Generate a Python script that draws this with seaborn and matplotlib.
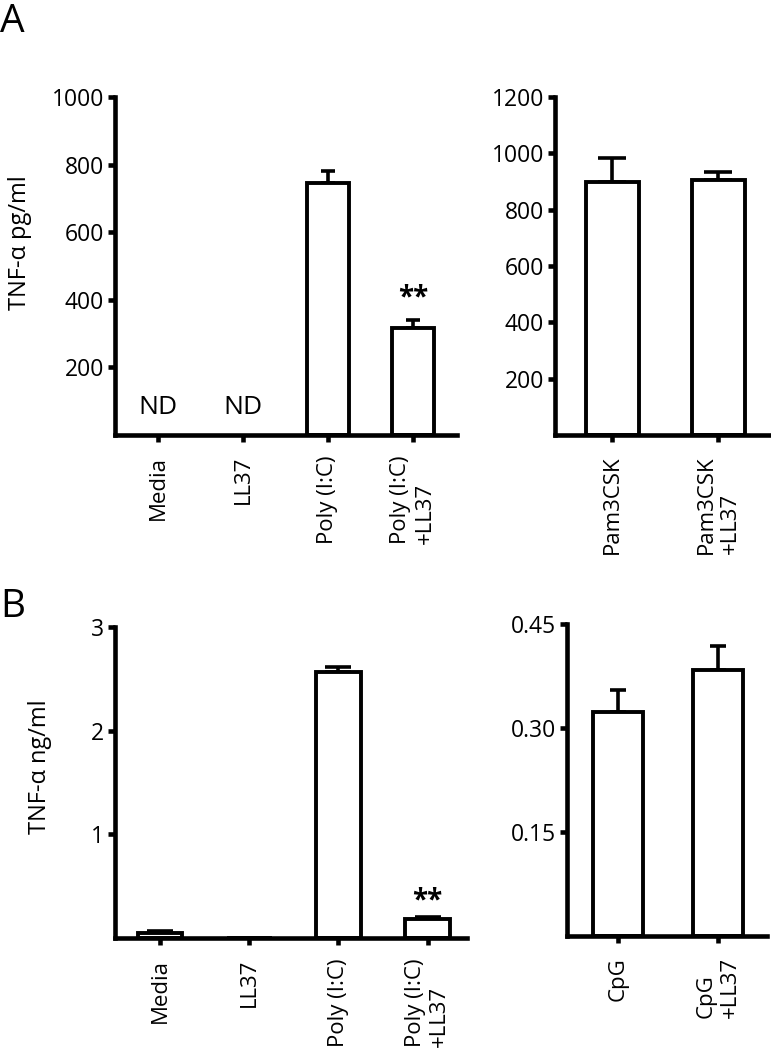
import numpy as np
import seaborn as sns
import matplotlib.pyplot as plt

# Data
catsA1 = ["Media", "LL37", "Poly (I:C)", "Poly (I:C)\n+LL37"]
tnfA1 = [np.nan, np.nan, 745, 317]
errA1 = [0, 0, 36, 23]

catsA2 = ["Pam3CSK", "Pam3CSK\n+LL37"]
tnfA2 = [897, 904]
errA2 = [85, 28]

catsB1 = ["Media", "LL37", "Poly (I:C)", "Poly (I:C)\n+LL37"]
tnfB1 = [0.05, 0.0, 2.565, 0.18]
errB1 = [0.02, 0.0, 0.045, 0.02]

catsB2 = ["CpG", "CpG\n+LL37"]
tnfB2 = [0.323, 0.384]
errB2 = [0.032, 0.034]

sns.set_style("ticks")
plt.rcParams['font.family'] = ['Open Sans', 'DejaVu Sans']
plt.rcParams.update({"text.color": "black", "axes.labelcolor": "black",
                     "xtick.color": "black", "ytick.color": "black",
                     "axes.edgecolor": "black"})

fig = plt.figure(figsize=(7.71, 10.5), dpi=100)
W, H = 771, 1050


def make_ax(left, right, top, bottom):
    return fig.add_axes([left / W, 1 - bottom / H, (right - left) / W, (bottom - top) / H])


def draw(ax, cats, vals, errs, capsize, ylim, yticks, xlim, fmt="{:g}"):
    sns.barplot(x=cats, y=vals, color="white", edgecolor="black", linewidth=2.8,
                width=0.5, errorbar=None, ax=ax, zorder=2)
    pos = np.arange(len(cats))
    v = np.nan_to_num(np.array(vals, dtype=float))
    e = np.array(errs, dtype=float)
    show = e > 0
    ax.errorbar(pos[show], v[show], yerr=[np.zeros(show.sum()), e[show]], fmt="none",
                ecolor="black", elinewidth=2.6, capsize=capsize, capthick=2.6, zorder=1)
    ax.set_ylim(*ylim)
    ax.set_xlim(*xlim)
    ax.set_yticks(yticks)
    ax.set_yticklabels([fmt.format(t) for t in yticks], fontsize=16.5)
    ax.set_xticks(pos)
    ax.set_xticklabels(cats, rotation=90, fontsize=16, va="top", ha="center")
    for t in ax.get_xticklabels():
        t.set_multialignment("left")
    for s in ["left", "bottom"]:
        ax.spines[s].set_linewidth(3.3)
        ax.spines[s].set_color("black")
    sns.despine(ax=ax)
    ax.tick_params(axis="both", direction="out", length=5, width=3.3, colors="black")
    ax.tick_params(axis="y", pad=3)
    ax.tick_params(axis="x", pad=10)
    ax.set_xlabel("")


# Panel A
axA1 = make_ax(115, 457, 97, 435)
draw(axA1, catsA1, tnfA1, errA1, 4.7, (0, 1000), [200, 400, 600, 800, 1000], (-0.506, 3.52))
axA1.set_ylabel("TNF-α pg/ml", fontsize=17)
axA1.yaxis.set_label_coords(-0.243, 0.568)
for i in range(2):
    axA1.text(i, 80, "ND", ha="center", va="center", fontsize=19)
axA1.text(3, 405, "**", ha="center", va="center", fontsize=20, fontweight="bold")

axA2 = make_ax(555, 769, 97, 435)
draw(axA2, catsA2, tnfA2, errA2, 10, (0, 1200), [200, 400, 600, 800, 1000, 1200], (-0.538, 1.48))

# Panel B
axB1 = make_ax(115, 467, 627, 938)
draw(axB1, catsB1, tnfB1, errB1, 9.7, (0, 3), [1, 2, 3], (-0.504, 3.44))
axB1.set_ylabel("TNF-α ng/ml", fontsize=17)
axB1.yaxis.set_label_coords(-0.179, 0.55)
axB1.text(3, 0.36, "**", ha="center", va="center", fontsize=20, fontweight="bold")

axB2 = make_ax(567, 767, 624, 936)
draw(axB2, catsB2, tnfB2, errB2, 6, (0, 0.45), [0.15, 0.30, 0.45], (-0.51, 1.49), fmt="{:.2f}")

fig.text(0.0, 1 - 3 / H, "A", ha="left", va="top", fontsize=28)
fig.text(0.0, 1 - 588 / H, "B", ha="left", va="top", fontsize=28)

fig.savefig("out.png", dpi=100)
